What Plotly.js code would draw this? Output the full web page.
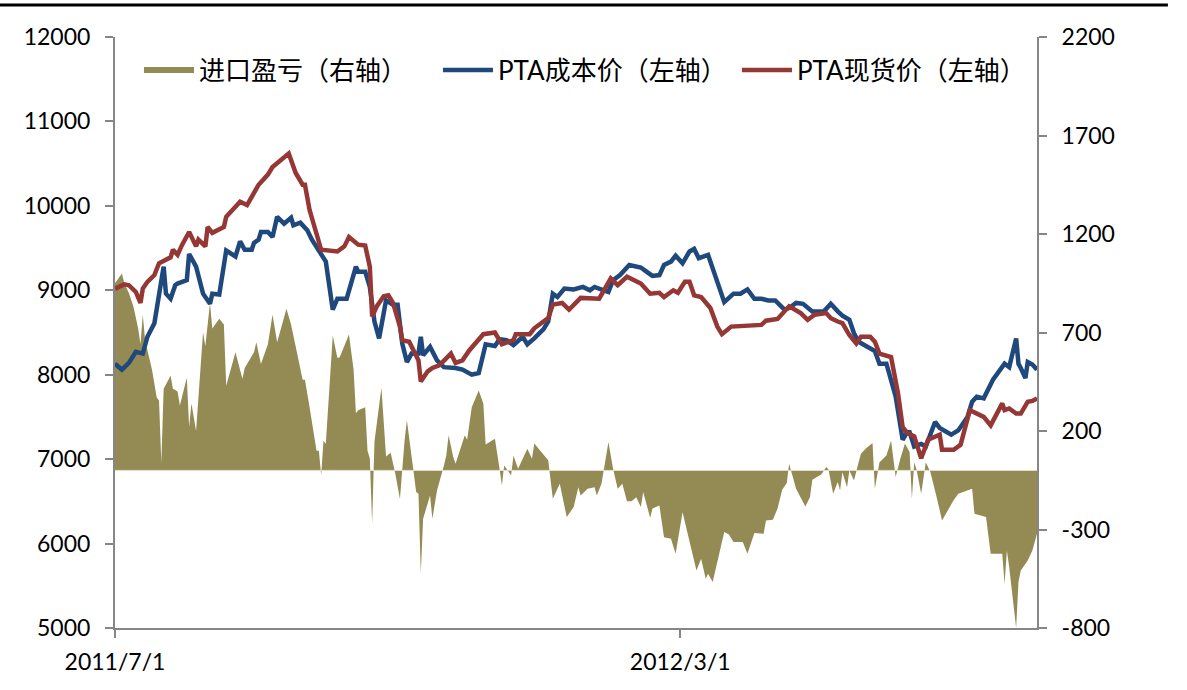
<!DOCTYPE html>
<html>
<head>
<meta charset="utf-8">
<script src="https://cdn.plot.ly/plotly-3.0.1.min.js"></script>
<style>
  body { margin: 0; background: #fff; }
  #chart { width: 1187px; height: 690px; }
</style>
</head>
<body>
<div id="chart"></div>
<script>
// 进口盈亏 (right axis)
const profitDates = [
  '2011-07-01','2011-07-04','2011-07-05','2011-07-07','2011-07-09','2011-07-11','2011-07-12','2011-07-13','2011-07-14','2011-07-17',
  '2011-07-19','2011-07-20','2011-07-21','2011-07-22','2011-07-25','2011-07-26','2011-07-28','2011-07-29','2011-08-01','2011-08-02',
  '2011-08-03','2011-08-05','2011-08-08','2011-08-09','2011-08-11','2011-08-12','2011-08-15','2011-08-17','2011-08-18','2011-08-22',
  '2011-08-25','2011-08-26','2011-08-30','2011-08-31','2011-09-02','2011-09-05','2011-09-07','2011-09-09','2011-09-13','2011-09-15',
  '2011-09-20','2011-09-21','2011-09-23','2011-09-26','2011-09-27','2011-09-28','2011-09-29','2011-09-30','2011-10-03','2011-10-05',
  '2011-10-06','2011-10-10','2011-10-12','2011-10-13','2011-10-14','2011-10-17','2011-10-18','2011-10-19','2011-10-20','2011-10-21',
  '2011-10-24','2011-10-26','2011-10-28','2011-10-30','2011-11-01','2011-11-03','2011-11-04','2011-11-07','2011-11-08','2011-11-09',
  '2011-11-10','2011-11-11','2011-11-14','2011-11-15','2011-11-17','2011-11-20','2011-11-21','2011-11-22','2011-11-24','2011-11-25',
  '2011-11-29','2011-11-30','2011-12-02','2011-12-05','2011-12-07','2011-12-08','2011-12-12','2011-12-14','2011-12-15','2011-12-16',
  '2011-12-19','2011-12-20','2011-12-22','2011-12-26','2011-12-28','2011-12-29','2012-01-04','2012-01-06','2012-01-09','2012-01-12',
  '2012-01-15','2012-01-17','2012-01-18','2012-01-21','2012-01-24','2012-01-25','2012-01-27','2012-01-30','2012-02-01','2012-02-03',
  '2012-02-05','2012-02-07','2012-02-09','2012-02-11','2012-02-13','2012-02-14','2012-02-17','2012-02-18','2012-02-21','2012-02-23',
  '2012-02-26','2012-02-28','2012-03-02','2012-03-08','2012-03-10','2012-03-12','2012-03-13','2012-03-15','2012-03-20','2012-03-22',
  '2012-03-24','2012-03-28','2012-03-30','2012-04-02','2012-04-06','2012-04-07','2012-04-10','2012-04-12','2012-04-14','2012-04-16',
  '2012-04-17','2012-04-20','2012-04-24','2012-04-26','2012-04-27','2012-05-01','2012-05-03','2012-05-04','2012-05-06','2012-05-08',
  '2012-05-09','2012-05-10','2012-05-12','2012-05-13','2012-05-15','2012-05-17','2012-05-18','2012-05-20','2012-05-23','2012-05-24',
  '2012-05-26','2012-05-29','2012-05-31','2012-06-02','2012-06-04','2012-06-06','2012-06-08','2012-06-09','2012-06-10','2012-06-11',
  '2012-06-13','2012-06-15','2012-06-17','2012-06-20','2012-06-22','2012-06-27','2012-06-29','2012-07-05','2012-07-06','2012-07-11',
  '2012-07-13','2012-07-18','2012-07-19','2012-07-20','2012-07-21','2012-07-24','2012-07-25','2012-07-26','2012-07-29','2012-07-31',
  '2012-08-02'
];
const profitValues = [
  950, 1000, 950, 900, 830, 720, 640, 790, 660, 510,
  370, 355, 40, 415, 480, 415, 400, 330, 470, 220,
  340, 200, 700, 630, 850, 720, 770, 740, 430, 600,
  465, 520, 600, 650, 540, 640, 790, 650, 820, 740,
  460, 460, 320, 100, 100, -25, 150, 135, 685, 570,
  575, 690, 510, 290, 305, 320, 100, 60, -270, 145,
  420, 70, 90, -17, -145, 150, 255, -17, -110, -118,
  -525, -245, -127, -245, -102, 25, 76, 178, 68, 34,
  178, 156, 321, 406, 339, 132, 161, 9, -76, 25,
  -25, 76, 9, 110, 59, 136, 51, -144, -68, -237,
  -186, -85, -127, -93, -85, -127, -68, 144, 9, -93,
  -68, -156, -156, -136, -186, -110, -240, -194, -178, -339,
  -347, -423, -212, -508, -448, -550, -524, -567, -313, -325,
  -364, -364, -423, -318, -321, -254, -250, -194, -98, -64,
  34, -93, -183, -136, -47, -20, 17, 4, -118, -59,
  -102, -9, -85, 0, -51, 42, 85, 110, 139, -93,
  42, 76, 152, -34, 59, 136, 93, -144, 42, 4,
  -118, 42, -9, -152, -254, -152, -118, -93, -220, -237,
  -423, -423, -575, -406, -491, -800, -567, -508, -457, -406,
  -321
];

// PTA成本价 (left axis)
const costDates = [
  '2011-07-01','2011-07-04','2011-07-07','2011-07-10','2011-07-13','2011-07-15','2011-07-18','2011-07-20','2011-07-22','2011-07-23',
  '2011-07-25','2011-07-27','2011-07-28','2011-07-30','2011-08-01','2011-08-02','2011-08-04','2011-08-05','2011-08-08','2011-08-11',
  '2011-08-12','2011-08-15','2011-08-18','2011-08-22','2011-08-24','2011-08-26','2011-08-29','2011-08-30','2011-09-01','2011-09-02',
  '2011-09-05','2011-09-07','2011-09-09','2011-09-12','2011-09-15','2011-09-16','2011-09-19','2011-09-22','2011-09-24','2011-09-28',
  '2011-09-30','2011-10-03','2011-10-05','2011-10-09','2011-10-13','2011-10-14','2011-10-17','2011-10-19','2011-10-21','2011-10-23',
  '2011-10-26','2011-10-29','2011-10-31','2011-11-02','2011-11-04','2011-11-06','2011-11-09','2011-11-10','2011-11-11','2011-11-14',
  '2011-11-17','2011-11-20','2011-11-25','2011-11-28','2011-12-01','2011-12-02','2011-12-05','2011-12-08','2011-12-12','2011-12-14',
  '2011-12-17','2011-12-20','2011-12-24','2011-12-26','2011-12-29','2012-01-02','2012-01-04','2012-01-06','2012-01-08','2012-01-11',
  '2012-01-15','2012-01-19','2012-01-22','2012-01-24','2012-01-28','2012-01-30','2012-02-01','2012-02-04','2012-02-08','2012-02-13',
  '2012-02-16','2012-02-18','2012-02-21','2012-02-23','2012-02-26','2012-02-28','2012-03-02','2012-03-05','2012-03-07','2012-03-09',
  '2012-03-13','2012-03-15','2012-03-18','2012-03-20','2012-03-24','2012-03-27','2012-03-30','2012-04-02','2012-04-05','2012-04-08',
  '2012-04-11','2012-04-15','2012-04-17','2012-04-20','2012-04-23','2012-04-27','2012-05-02','2012-05-05','2012-05-08','2012-05-10',
  '2012-05-13','2012-05-15','2012-05-17','2012-05-21','2012-05-24','2012-05-26','2012-05-29','2012-06-02','2012-06-05','2012-06-07',
  '2012-06-08','2012-06-10','2012-06-13','2012-06-15','2012-06-17','2012-06-19','2012-06-21','2012-06-26','2012-06-29','2012-07-03',
  '2012-07-05','2012-07-07','2012-07-10','2012-07-12','2012-07-14','2012-07-19','2012-07-21','2012-07-24','2012-07-25','2012-07-26',
  '2012-07-28','2012-07-29','2012-07-31','2012-08-02'
];
const costValues = [
  8130, 8060, 8140, 8270, 8250, 8450, 8610, 8920, 9280, 8960,
  8900, 9060, 9080, 9100, 9120, 9430, 9320, 9280, 8960, 8840,
  8960, 8950, 9470, 9400, 9580, 9480, 9480, 9560, 9600, 9690,
  9690, 9630, 9870, 9790, 9860, 9770, 9800, 9710, 9600, 9420,
  9340, 8770, 8900, 8900, 9280, 9220, 9220, 9040, 8630, 8430,
  8880, 8830, 8830, 8370, 8150, 8250, 8250, 8450, 8230, 8330,
  8170, 8090, 8080, 8060, 8020, 8000, 8020, 8360, 8340, 8420,
  8410, 8350, 8450, 8360, 8430, 8540, 8630, 8960, 8920, 9020,
  9010, 9040, 9000, 9040, 9000, 8980, 9120, 9180, 9300, 9270,
  9210, 9170, 9180, 9300, 9340, 9410, 9320, 9460, 9490, 9380,
  9420, 9260, 9000, 8860, 8960, 8960, 9010, 8900, 8900, 8880,
  8880, 8770, 8790, 8850, 8840, 8750, 8750, 8840, 8750, 8700,
  8650, 8490, 8390, 8330, 8280, 8130, 8130, 7740, 7230, 7320,
  7320, 7150, 7180, 7150, 7290, 7440, 7370, 7290, 7340, 7500,
  7680, 7740, 7720, 7820, 7940, 8130, 8090, 8430, 8130, 8080,
  7960, 8150, 8120, 8060
];

// PTA现货价 (left axis)
const spotDates = [
  '2011-07-01','2011-07-05','2011-07-07','2011-07-10','2011-07-12','2011-07-13','2011-07-15','2011-07-18','2011-07-20','2011-07-25',
  '2011-07-26','2011-07-28','2011-07-30','2011-08-02','2011-08-05','2011-08-06','2011-08-09','2011-08-10','2011-08-12','2011-08-15',
  '2011-08-17','2011-08-18','2011-08-24','2011-08-27','2011-08-30','2011-09-01','2011-09-05','2011-09-07','2011-09-14','2011-09-17',
  '2011-09-20','2011-09-21','2011-09-23','2011-09-28','2011-10-05','2011-10-08','2011-10-10','2011-10-14','2011-10-17','2011-10-19',
  '2011-10-20','2011-10-22','2011-10-25','2011-10-27','2011-10-29','2011-11-01','2011-11-02','2011-11-05','2011-11-09','2011-11-10',
  '2011-11-13','2011-11-15','2011-11-18','2011-11-23','2011-11-25','2011-11-28','2011-12-01','2011-12-03','2011-12-07','2011-12-12',
  '2011-12-15','2011-12-20','2011-12-21','2011-12-27','2011-12-29','2012-01-04','2012-01-06','2012-01-10','2012-01-13','2012-01-18',
  '2012-01-26','2012-01-31','2012-02-03','2012-02-07','2012-02-13','2012-02-17','2012-02-21','2012-02-23','2012-02-27','2012-02-29',
  '2012-03-03','2012-03-05','2012-03-07','2012-03-10','2012-03-14','2012-03-17','2012-03-19','2012-03-23','2012-04-05','2012-04-07',
  '2012-04-12','2012-04-17','2012-04-22','2012-04-25','2012-04-28','2012-05-03','2012-05-05','2012-05-08','2012-05-10','2012-05-13',
  '2012-05-16','2012-05-18','2012-05-22','2012-05-24','2012-05-26','2012-05-31','2012-06-03','2012-06-05','2012-06-07','2012-06-10',
  '2012-06-11','2012-06-13','2012-06-16','2012-06-21','2012-06-22','2012-06-27','2012-06-30','2012-07-04','2012-07-10','2012-07-13',
  '2012-07-18','2012-07-19','2012-07-21','2012-07-24','2012-07-26','2012-07-29','2012-07-31','2012-08-02'
];
const spotValues = [
  9020, 9070, 9060, 8980, 8850, 9020, 9100, 9180, 9320, 9390,
  9480, 9420, 9540, 9690, 9520, 9600, 9520, 9750, 9680, 9730,
  9750, 9870, 10050, 10010, 10150, 10250, 10370, 10460, 10620, 10390,
  10250, 10250, 9950, 9480, 9460, 9520, 9630, 9540, 9530, 9280,
  8690, 8810, 8930, 8940, 8850, 8570, 8410, 8390, 8170, 7920,
  8040, 8080, 8110, 8250, 8140, 8170, 8290, 8350, 8480, 8500,
  8360, 8410, 8480, 8480, 8550, 8670, 8830, 8850, 8770, 8910,
  8900, 9140, 9060, 9160, 9080, 8960, 8970, 8920, 9000, 8970,
  9100, 9100, 8940, 8920, 8790, 8570, 8480, 8570, 8590, 8640,
  8660, 8810, 8730, 8650, 8710, 8730, 8670, 8630, 8610, 8470,
  8370, 8450, 8450, 8390, 8250, 8210, 7780, 7380, 7310, 7270,
  7170, 7010, 7230, 7290, 7110, 7110, 7170, 7580, 7500, 7400,
  7660, 7580, 7600, 7540, 7540, 7680, 7690, 7720
];

const xTickVals = ['2011-07-01', '2012-03-01'];
const xTickText = ['2011/7/1', '2012/3/1'];
const rightTickVals = [-800, -300, 200, 700, 1200, 1700, 2200];
const rightTickText = ['-800', '-300', '200', '700', '1200', '1700', '2200'];

const fontFamily = 'Lato, "Noto Sans CJK SC", sans-serif';
const axisGray = '#868686';

const traces = [
  {
    x: profitDates,
    y: profitValues,
    name: '进口盈亏（右轴）',
    type: 'scatter',
    mode: 'none',
    fill: 'tozeroy',
    fillcolor: '#948A54',
    yaxis: 'y'
  },
  {
    x: costDates,
    y: costValues,
    name: 'PTA成本价（左轴）',
    type: 'scatter',
    mode: 'lines',
    line: { color: '#1F497D', width: 4.5 },
    yaxis: 'y2'
  },
  {
    x: spotDates,
    y: spotValues,
    name: 'PTA现货价（左轴）',
    type: 'scatter',
    mode: 'lines',
    line: { color: '#953735', width: 4.5 },
    yaxis: 'y2'
  }
];

const layout = {
  width: 1187,
  height: 690,
  margin: { l: 115, r: 150, t: 37, b: 62 },
  paper_bgcolor: '#ffffff',
  plot_bgcolor: '#ffffff',
  font: { family: fontFamily, size: 22, color: '#000000' },
  showlegend: true,
  legend: {
    orientation: 'h',
    x: 0.026,
    y: 0.944,
    xanchor: 'left',
    yanchor: 'middle',
    font: { family: fontFamily, size: 26, color: '#000000' },
    bgcolor: 'rgba(0,0,0,0)',
    itemwidth: 50,
    entrywidth: 234,
    entrywidthmode: 'pixels'
  },
  xaxis: {
    type: 'date',
    range: ['2011-07-01', '2012-08-02'],
    tickmode: 'array',
    tickvals: xTickVals,
    ticktext: xTickText,
    ticks: 'outside',
    ticklen: 8,
    tickwidth: 2,
    tickcolor: axisGray,
    ticklabelstandoff: 4,
    showline: true,
    linecolor: axisGray,
    linewidth: 2,
    showgrid: false,
    zeroline: false,
    tickfont: { size: 23 }
  },
  yaxis: {
    side: 'right',
    range: [-800, 2200],
    tickmode: 'array',
    tickvals: rightTickVals,
    ticktext: rightTickText,
    ticks: 'outside',
    ticklen: 8,
    tickwidth: 2,
    tickcolor: axisGray,
    ticklabelstandoff: 10,
    showline: true,
    linecolor: axisGray,
    linewidth: 2,
    showgrid: false,
    zeroline: false,
    tickfont: { size: 23 }
  },
  yaxis2: {
    overlaying: 'y',
    side: 'left',
    range: [5000, 12000],
    dtick: 1000,
    tickformat: 'd',
    ticks: 'outside',
    ticklen: 8,
    tickwidth: 2,
    tickcolor: axisGray,
    ticklabelstandoff: 10,
    showline: true,
    linecolor: axisGray,
    linewidth: 2,
    showgrid: false,
    zeroline: false,
    tickfont: { size: 23 }
  },
  shapes: [
    // zero line across the filled area
    { type: 'line', xref: 'paper', yref: 'y', x0: 0, x1: 1, y0: 0, y1: 0,
      line: { color: '#e4e0cc', width: 1 }, layer: 'above' },
    // black rule along the top of the figure
    { type: 'line', xref: 'paper', yref: 'paper', x0: -0.125, x1: 1.142, y0: 1.054, y1: 1.054,
      line: { color: '#000000', width: 3 } }
  ]
};

Plotly.newPlot('chart', traces, layout, { displayModeBar: false, responsive: false })
  .catch(error => console.error('Error rendering chart:', error));
</script>
</body>
</html>
